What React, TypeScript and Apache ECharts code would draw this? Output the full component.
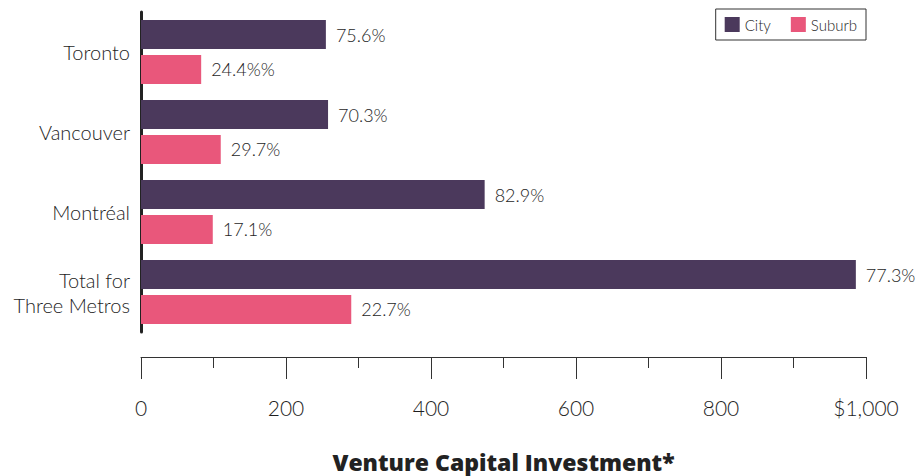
import React, { useEffect, useRef } from "react";
import * as echarts from "echarts";

const categories = ["Toronto", "Vancouver", "Montréal", "Total for\nThree Metros"];
const cityValues = [255, 258, 474, 986];
const suburbValues = [83, 110, 99, 290];
const cityLabels = ["75.6%", "70.3%", "82.9%", "77.3%"];
const suburbLabels = ["24.4%%", "29.7%", "17.1%", "22.7%"];
const seriesNames = ["City", "Suburb"];
const xTitle = "Venture Capital Investment*";

const FONT = "Lato, 'Open Sans', sans-serif";
const TXT = "#1e1e1e";

export default function App() {
  const ref = useRef<HTMLDivElement>(null);
  useEffect(() => {
    if (!ref.current) return;
    const chart = echarts.init(ref.current, undefined, { renderer: "svg" });
    chart.setOption({
      animation: false,
      backgroundColor: "#ffffff",
      legend: {
        data: seriesNames,
        top: 9,
        right: 56,
        orient: "horizontal",
        icon: "rect",
        itemWidth: 15,
        itemHeight: 15,
        itemGap: 20,
        padding: [8, 9, 8, 9],
        borderColor: "#333",
        borderWidth: 1,
        textStyle: { fontFamily: FONT, fontSize: 15, fontWeight: 300, color: TXT },
      },
      grid: {
        left: 141,
        top: 12,
        width: 725,
        height: 320,
        containLabel: false,
        outerBoundsMode: "none",
      },
      xAxis: {
        type: "value",
        min: 0,
        max: 1000,
        interval: 200,
        position: "bottom",
        offset: 25,
        splitLine: { show: false },
        axisLine: { show: true, lineStyle: { color: "#333", width: 1 } },
        axisTick: { show: true, inside: false, length: 22, lineStyle: { color: "#333" } },
        minorTick: { show: true, splitNumber: 2, length: 11, lineStyle: { color: "#333" } },
        axisLabel: {
          margin: 40,
          fontFamily: FONT,
          fontSize: 21,
          fontWeight: 300,
          color: TXT,
          formatter: (v: number) => (v === 1000 ? "$1,000" : String(v)),
        },
        name: xTitle,
        nameLocation: "middle",
        nameGap: 93,
        nameTextStyle: {
          fontFamily: "'Open Sans', sans-serif",
          fontWeight: 800,
          fontSize: 23,
          lineHeight: 23,
          color: "#222",
        },
      },
      yAxis: {
        type: "category",
        data: categories,
        inverse: true,
        axisLine: { show: true, lineStyle: { color: "#222", width: 3 } },
        axisTick: { show: false },
        axisLabel: {
          margin: 11,
          fontFamily: FONT,
          fontSize: 20,
          fontWeight: 300,
          color: TXT,
          lineHeight: 25,
          align: "right",
        },
      },
      series: [
        {
          name: seriesNames[0],
          type: "bar",
          data: cityValues,
          barWidth: 29,
          barGap: "20%",
          itemStyle: { color: "#4b395c" },
          label: {
            show: true,
            position: "right",
            distance: 10,
            fontFamily: FONT,
            fontSize: 18,
            fontWeight: 300,
            color: TXT,
            formatter: (p: any) => cityLabels[p.dataIndex],
          },
        },
        {
          name: seriesNames[1],
          type: "bar",
          data: suburbValues,
          barWidth: 29,
          barGap: "20%",
          itemStyle: { color: "#e9577b" },
          label: {
            show: true,
            position: "right",
            distance: 10,
            fontFamily: FONT,
            fontSize: 18,
            fontWeight: 300,
            color: TXT,
            formatter: (p: any) => suburbLabels[p.dataIndex],
          },
        },
      ],
    });
    return () => chart.dispose();
  }, []);
  return (
    <div
      ref={ref}
      style={{ position: "fixed", left: 0, top: 0, width: 922, height: 476 }}
    />
  );
}
